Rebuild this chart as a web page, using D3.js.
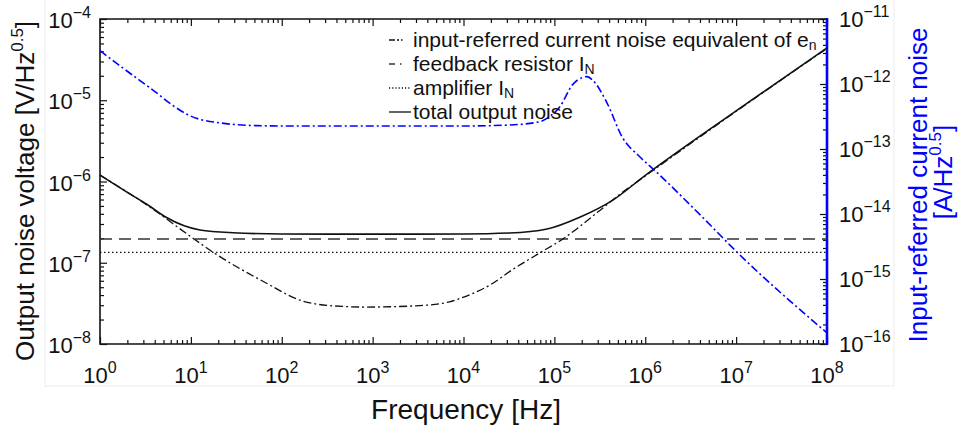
<!DOCTYPE html>
<html>
<head>
<meta charset="utf-8">
<script src="https://cdn.jsdelivr.net/npm/d3@7"></script>
<style>
body { margin: 0; background-color: white; }
text { font-family: "Liberation Sans", Arial, Helvetica, sans-serif; }
</style>
</head>
<body>
<svg id="chart"></svg>
<script>
// values (frequency in Hz, noise in V/Hz^0.5 or A/Hz^0.5)
var totalFreq = [1, 2.1, 3.5, 5.4, 12.6, 29, 100, 1e3, 1e4, 3.2e4, 8.3e4, 1.9e5, 4.4e5, 1e6, 1e7, 1e8];
var totalNoise = [1.2e-6, 7.1e-7, 5.0e-7, 3.6e-7, 2.53e-7, 2.34e-7, 2.26e-7, 2.25e-7, 2.26e-7, 2.32e-7, 2.6e-7, 3.63e-7, 5.9e-7, 1.19e-6, 7.4e-6, 4.4e-5];

var enFreq = [1, 3.5, 10, 17.5, 68, 158, 365, 860, 3000, 7000, 9100, 2e4, 3.5e4, 6.9e4, 1.23e5, 3e5, 5.2e5, 1e6, 1e7, 1e8];
var enNoise = [1.2e-6, 4.9e-7, 2.09e-7, 1.35e-7, 5.6e-8, 3.47e-8, 2.95e-8, 2.85e-8, 2.95e-8, 3.3e-8, 3.63e-8, 5.4e-8, 8.3e-8, 1.32e-7, 1.95e-7, 4.2e-7, 6.9e-7, 1.17e-6, 7.3e-6, 4.35e-5];

var rfFreq = [1, 1e8];
var rfNoise = [1.96e-7, 1.96e-7];

var ampFreq = [1, 1e8];
var ampNoise = [1.34e-7, 1.34e-7];

var inFreq = [1, 1.58, 2.75, 4.2, 6.3, 9.8, 22, 52, 100, 1e3, 1e4, 3.2e4, 6.9e4, 8.9e4, 1.15e5, 1.58e5, 2.04e5, 2.29e5, 2.63e5, 3.8e5, 5.6e5, 8.7e5, 1.29e6, 4.27e6, 1.02e7, 1e8];
var inNoise = [3.25e-12, 2.0e-12, 1.13e-12, 7.3e-13, 4.7e-13, 3.24e-13, 2.5e-13, 2.29e-13, 2.26e-13, 2.26e-13, 2.26e-13, 2.34e-13, 2.63e-13, 3.16e-13, 4.47e-13, 9.7e-13, 1.26e-12, 1.3e-12, 1.15e-12, 5.1e-13, 1.51e-13, 7.6e-14, 4.6e-14, 8.9e-15, 2.6e-15, 1.48e-16];

var xTicks = [1, 10, 1e2, 1e3, 1e4, 1e5, 1e6, 1e7, 1e8];
var xTickExp = ["0", "1", "2", "3", "4", "5", "6", "7", "8"];
var yLeftTicks = [1e-8, 1e-7, 1e-6, 1e-5, 1e-4];
var yLeftExp = ["−8", "−7", "−6", "−5", "−4"];
var yRightTicks = [1e-16, 1e-15, 1e-14, 1e-13, 1e-12, 1e-11];
var yRightExp = ["−16", "−15", "−14", "−13", "−12", "−11"];

var legendLabels = [
  ["input-referred current noise equivalent of e", "n"],
  ["feedback resistor I", "N"],
  ["amplifier I", "N"],
  ["total output noise", ""]
];

const width = 959, height = 429;
const pLeft = 100, pRight = 827, pTop = 19, pBottom = 344;
var blue = "#0000ff";

var svg = d3.select("#chart").attr("width", width).attr("height", height);

var x = d3.scaleLog().domain([1, 1e8]).range([pLeft, pRight]);
var yL = d3.scaleLog().domain([1e-8, 1e-4]).range([pBottom, pTop]);
var yR = d3.scaleLog().domain([1e-16, 1e-11]).range([pBottom, pTop]);

function minors(lo, hi) {
  var out = [];
  for (var e = lo; e < hi; ++e)
    for (var k = 2; k < 10; ++k) out.push(k * Math.pow(10, e));
  return out;
}

// faint crop border from the source image
svg.append("rect").attr("x", 45).attr("y", -2).attr("width", 849).attr("height", 388)
   .attr("fill", "none").attr("stroke", "#ececec").attr("stroke-width", 1);

// ticks
function ticks(axis, tr, major, minor) {
  var g = svg.append("g").attr("transform", tr);
  g.append("g").call(axis.tickValues(major).tickSize(-7).tickFormat(""));
  g.append("g").call(axis.tickValues(minor).tickSize(-4).tickFormat(""));
  g.selectAll(".domain").remove();
  g.selectAll("line").attr("stroke", "#111").attr("stroke-width", 1.2);
}
ticks(d3.axisBottom(x), "translate(0," + pBottom + ")", xTicks, minors(0, 8));
ticks(d3.axisTop(x), "translate(0," + pTop + ")", xTicks, minors(0, 8));
ticks(d3.axisLeft(yL), "translate(" + pLeft + ",0)", yLeftTicks, minors(-8, -4));
ticks(d3.axisRight(yR), "translate(" + pRight + ",0)", yRightTicks, minors(-16, -11));

// frame
svg.append("path").attr("d", "M" + pRight + "," + pTop + "H" + pLeft + "V" + pBottom + "H" + pRight)
   .attr("fill", "none").attr("stroke", "#111").attr("stroke-width", 1.6);
svg.append("line").attr("x1", pRight).attr("x2", pRight).attr("y1", pTop - 1).attr("y2", pBottom + 1)
   .attr("stroke", blue).attr("stroke-width", 2.6);

// tick labels
function powLabel(sel, exp) {
  sel.append("tspan").text("10");
  sel.append("tspan").attr("dy", -10).attr("font-size", 16).text(exp);
}
xTicks.forEach(function(v, i) {
  var t = svg.append("text").attr("x", x(v)).attr("y", 383).attr("text-anchor", "middle")
             .attr("font-size", 22).attr("fill", "#111");
  powLabel(t, xTickExp[i]);
});
yLeftTicks.forEach(function(v, i) {
  var t = svg.append("text").attr("x", 91).attr("y", yL(v) + 9).attr("text-anchor", "end")
             .attr("font-size", 22).attr("fill", "#111");
  powLabel(t, yLeftExp[i]);
});
yRightTicks.forEach(function(v, i) {
  var t = svg.append("text").attr("x", 839).attr("y", yR(v) + 8).attr("text-anchor", "start")
             .attr("font-size", 22).attr("fill", "#111");
  powLabel(t, yRightExp[i]);
});

// axis titles
svg.append("text").attr("x", 466).attr("y", 419).attr("text-anchor", "middle")
   .attr("font-size", 28).attr("fill", "#111").text("Frequency [Hz]");

var lt = svg.append("text").attr("transform", "translate(34,191) rotate(-90)")
   .attr("text-anchor", "middle").attr("font-size", 26).attr("fill", "#111");
lt.append("tspan").text("Output noise voltage [V/Hz");
lt.append("tspan").attr("dy", -11).attr("font-size", 17).text("0.5");
lt.append("tspan").attr("dy", 11).text("]");

svg.append("text").attr("transform", "translate(927,185) rotate(-90)")
   .attr("text-anchor", "middle").attr("font-size", 26).attr("fill", blue)
   .text("Input-referred current noise");
var rt = svg.append("text").attr("transform", "translate(952,172) rotate(-90)")
   .attr("text-anchor", "middle").attr("font-size", 26).attr("fill", blue);
rt.append("tspan").text("[A/Hz");
rt.append("tspan").attr("dy", -11).attr("font-size", 17).text("0.5");
rt.append("tspan").attr("dy", 11).text("]");

// curves
function zip(f, v) { return f.map(function(d, i) { return [d, v[i]]; }); }
var lineL = d3.line().curve(d3.curveMonotoneX).x(function(d) { return x(d[0]); }).y(function(d) { return yL(d[1]); });
var lineR = d3.line().curve(d3.curveMonotoneX).x(function(d) { return x(d[0]); }).y(function(d) { return yR(d[1]); });

var series = [
  { data: zip(rfFreq, rfNoise), line: lineL, stroke: "#333", width: 1.5, dash: "12,7" },
  { data: zip(ampFreq, ampNoise), line: lineL, stroke: "#111", width: 1.3, dash: "1.5,2.5" },
  { data: zip(enFreq, enNoise), line: lineL, stroke: "#111", width: 1.3, dash: "8,3,2,3" },
  { data: zip(totalFreq, totalNoise), line: lineL, stroke: "#111", width: 1.6, dash: null },
  { data: zip(inFreq, inNoise), line: lineR, stroke: blue, width: 1.6, dash: "8,3,2,3" }
];

svg.append("g").selectAll("path")
   .data(series)
   .enter()
   .append("path")
   .attr("fill", "none")
   .attr("stroke", function(d) { return d.stroke; })
   .attr("stroke-width", function(d) { return d.width; })
   .attr("stroke-dasharray", function(d) { return d.dash; })
   .attr("d", function(d) { return d.line(d.data); });

// legend
var legendDash = ["6,2,2,2,1.5,20", "6,5,1.5,20", "1.2,2", null];
var legendColor = ["#111", "#333", "#111", "#111"];
legendLabels.forEach(function(lab, i) {
  var cy = 40 + i * 24;
  svg.append("line").attr("x1", 389).attr("x2", 411).attr("y1", cy).attr("y2", cy)
     .attr("stroke", legendColor[i]).attr("stroke-width", 1.3)
     .attr("stroke-dasharray", legendDash[i]);
  var t = svg.append("text").attr("x", 413).attr("y", cy + 7).attr("font-size", 21).attr("fill", "#111");
  t.append("tspan").text(lab[0]);
  if (lab[1]) t.append("tspan").attr("dy", 3).attr("font-size", 14).text(lab[1]);
});
</script>
</body>
</html>
